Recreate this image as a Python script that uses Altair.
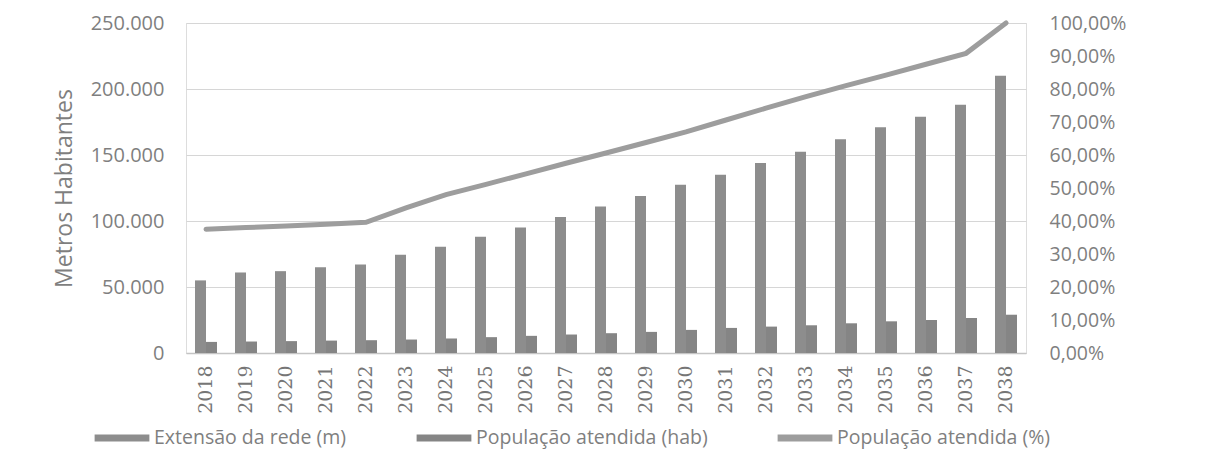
import altair as alt
import pandas as pd

years = [str(y) for y in range(2018, 2039)]
extensao_rede_m = [55000, 61000, 62000, 65000, 67000, 74500, 80500, 88000, 95000, 103000,
                   111000, 119000, 127500, 135000, 144000, 152500, 162000, 171000, 179000,
                   188000, 210000]
populacao_hab = [8400, 8700, 9000, 9400, 9700, 10200, 11000, 12000, 13000, 14000,
                 15000, 16000, 17500, 19000, 20000, 21000, 22500, 24000, 25000, 26500, 29000]
populacao_pct = [37.5, 38.0, 38.5, 39.0, 39.6, 44.0, 48.0, 51.1, 54.3, 57.5,
                 60.6, 63.8, 67.0, 70.6, 74.2, 77.7, 81.0, 84.2, 87.5, 90.8, 100.0]

s1 = "Extensão da rede (m)"
s2 = "População atendida (hab)"
s3 = "População atendida (%)"

bars_df = pd.DataFrame({
    "ano": years * 2,
    "serie": [s1] * len(years) + [s2] * len(years),
    "valor": extensao_rede_m + populacao_hab,
})
line_df = pd.DataFrame({"ano": years, "serie": [s3] * len(years), "pct": populacao_pct})

FONT = "Open Sans"
GREY_TXT = "#7f7f7f"

color_scale = alt.Scale(domain=[s1, s2, s3], range=["#8d8d8d", "#858585", "#9d9d9d"])
x_enc = alt.X("ano:N", title=None, sort=years,
              scale=alt.Scale(paddingInner=0.45, paddingOuter=0.225),
              axis=alt.Axis(labelAngle=-90, labelFont="DejaVu Serif", labelFontSize=19,
                            labelColor="#767676", ticks=False, labelPadding=12,
                            domainColor="#c4c4c4", domainWidth=1.5, grid=False))

legend = alt.Legend(title=None, orient="none", direction="horizontal", legendX=-95, legendY=384,
                    symbolType="stroke", symbolSize=3000, symbolStrokeWidth=7,
                    symbolStrokeColor="#8d8d8d", labelFont=FONT, labelFontSize=19.5,
                    labelColor=GREY_TXT, columnPadding=55, labelOffset=1,
                    labelLimit=400)

bars = alt.Chart(bars_df).mark_bar().encode(
    x=x_enc,
    xOffset=alt.XOffset("serie:N", sort=[s1, s2], scale=alt.Scale(paddingInner=0, paddingOuter=0)),
    y=alt.Y("valor:Q", title="Metros Habitantes",
            scale=alt.Scale(domain=[0, 250000], nice=False),
            axis=alt.Axis(values=[0, 50000, 100000, 150000, 200000, 250000],
                          labelExpr="replace(format(datum.value, ',d'), ',', '.')",
                          labelFont=FONT, labelFontSize=20, labelColor=GREY_TXT,
                          labelPadding=22, ticks=False, domain=False,
                          grid=True, gridColor="#d6d6d6", gridWidth=1.2,
                          titleFont=FONT, titleFontSize=23, titleColor=GREY_TXT,
                          titleFontWeight="normal", titlePadding=14)),
    color=alt.Color("serie:N", scale=color_scale, legend=legend),
)

line = alt.Chart(line_df).mark_line(strokeWidth=5, strokeCap="round").encode(
    x=alt.X("ano:N", sort=years),
    y=alt.Y("pct:Q", title=None, scale=alt.Scale(domain=[0, 100], nice=False),
            axis=alt.Axis(orient="right", values=list(range(0, 101, 10)),
                          labelExpr="replace(format(datum.value, '.2f'), '.', ',') + '%'",
                          labelFont=FONT, labelFontSize=19.5, labelColor=GREY_TXT,
                          labelPadding=23, ticks=False, domain=False, grid=False)),
    color=alt.Color("serie:N", scale=color_scale, legend=legend),
)

chart = alt.layer(bars, line).resolve_scale(y="independent").properties(
    width=840, height=330, padding={"left": 45, "top": 5, "right": 5, "bottom": 5}
).configure_view(stroke=None).configure(background="white")

chart.save("out.html", embed_options={"renderer": "svg", "actions": False})
